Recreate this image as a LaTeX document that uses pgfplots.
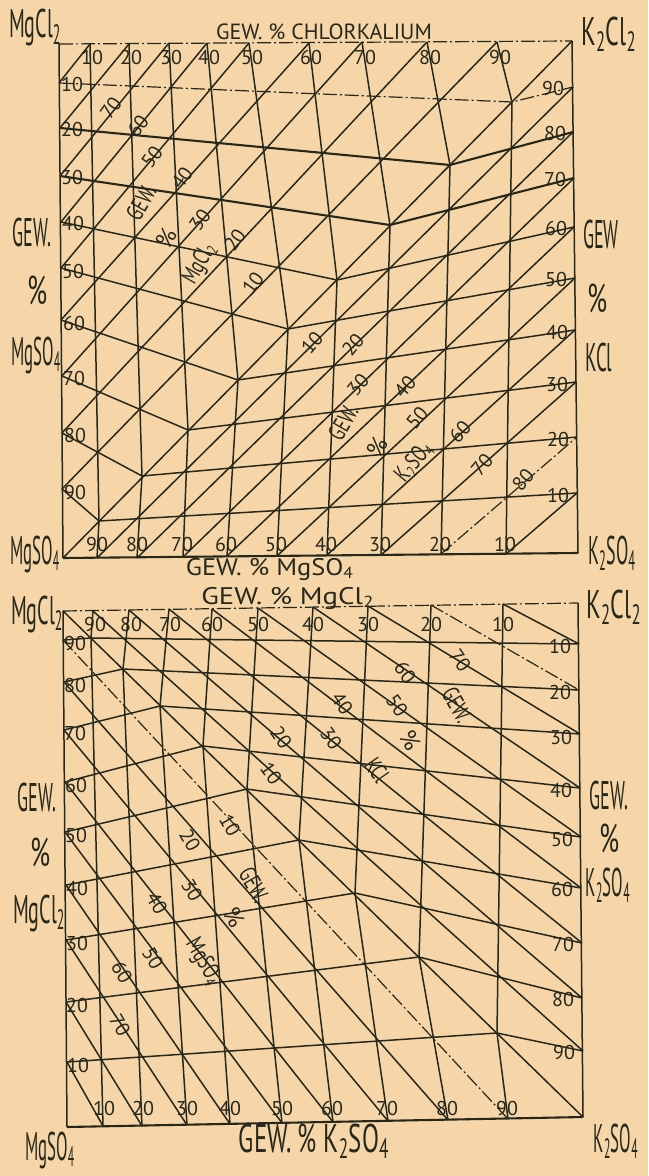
\documentclass[border=0pt]{standalone}
\usepackage{pgfplots}
\pgfplotsset{compat=1.18}
\usepackage{fontspec}
\setmainfont{PT Sans}
\usepackage{graphicx}
\definecolor{paper}{HTML}{F6D6A8}
\definecolor{ink}{HTML}{26281C}
\newcommand{\cond}[2][0.6]{\scalebox{#1}[1]{#2}}
\newcommand{\sub}[1]{\textsubscript{#1}}
\tikzset{
  ln/.style={ink, line width=0.75pt},
  bd/.style={ink, line width=1.05pt},
  dd/.style={ink, line width=0.6pt, dash pattern=on 7pt off 1.5pt on 1pt off 1.5pt},
  num/.style={font=\fontsize{10}{10}\selectfont, text=ink, inner sep=0pt},
  big/.style={font=\fontsize{20}{20}\selectfont, text=ink, inner sep=0pt},
  mid/.style={font=\fontsize{11}{11}\selectfont, text=ink, inner sep=0pt},
  dlab/.style={font=\fontsize{12}{12}\selectfont, text=ink, inner sep=0pt},
  ttl/.style={font=\fontsize{12}{12}\selectfont, text=ink, inner sep=0pt},
}
\begin{document}
\begin{tikzpicture}
\begin{axis}[width=324pt,height=588pt,scale only axis,
  xmin=0,xmax=648,ymin=0,ymax=1176,y dir=reverse,hide axis,clip=false]
\fill[paper] (axis cs:0,0) rectangle (axis cs:648,1176);

% ================= TOP DIAGRAM =================
% borders
\addplot[dd] coordinates {(59,44)(572,41)};
\addplot[ln] coordinates {(572,41)(578,553)};
\addplot[bd] coordinates {(63,558)(578,553)};
\addplot[ln] coordinates {(59,44)(63,558)};
% vertical lines (top KCl %, bottom MgSO4 %)
\addplot[ln] coordinates {(90,44)(99,521)(97,558)};
\addplot[ln] coordinates {(129,44)(142,476)(137,558)};
\addplot[ln] coordinates {(169,43)(188,430)(183,557)};
\addplot[ln] coordinates {(207,43)(238,380)(227,556)};
\addplot[ln] coordinates {(249,43)(288,329)(277,556)};
\addplot[ln] coordinates {(309,43)(337,280)(327,555)};
\addplot[ln] coordinates {(362,42)(390,225)(381,555)};
\addplot[ln] coordinates {(427,42)(450,165)(441,554)};
\addplot[ln] coordinates {(497,42)(512,102)(506,554)};
% horizontal lines (left MgSO4 %, right KCl %)
\addplot[dd] coordinates {(59,83)(512,102)(573,87)};
\addplot[bd] coordinates {(60,128)(450,165)(573,132)};
\addplot[bd] coordinates {(60,176)(390,225)(574,178)};
\addplot[ln] coordinates {(61,222)(337,280)(574,227)};
\addplot[ln] coordinates {(61,268)(288,329)(575,278)};
\addplot[ln] coordinates {(61,320)(238,380)(575,330)};
\addplot[ln] coordinates {(62,376)(188,430)(576,382)};
\addplot[ln] coordinates {(62,433)(142,476)(577,437)};
\addplot[ln] coordinates {(62,489)(99,521)(577,493)};
% diagonals MgCl2
\addplot[ln] coordinates {(59,83)(90,44)};
\addplot[ln] coordinates {(60,128)(129,44)};
\addplot[ln] coordinates {(60,176)(169,43)};
\addplot[ln] coordinates {(61,222)(207,43)};
\addplot[ln] coordinates {(61,268)(249,43)};
\addplot[ln] coordinates {(61,320)(309,43)};
\addplot[ln] coordinates {(62,376)(362,42)};
\addplot[ln] coordinates {(62,433)(427,42)};
\addplot[ln] coordinates {(62,489)(497,42)};
% main diagonal
\addplot[ln] coordinates {(63,558)(572,41)};
% diagonals K2SO4
\addplot[ln] coordinates {(97,558)(573,87)};
\addplot[ln] coordinates {(137,558)(573,132)};
\addplot[ln] coordinates {(183,557)(574,178)};
\addplot[ln] coordinates {(227,556)(574,227)};
\addplot[ln] coordinates {(277,556)(575,278)};
\addplot[ln] coordinates {(327,555)(575,330)};
\addplot[ln] coordinates {(381,555)(576,382)};
\addplot[dd] coordinates {(441,554)(577,437)};
\addplot[ln] coordinates {(506,554)(577,493)};

% top labels
\node[num] at (axis cs:92,58) {10};
\node[num] at (axis cs:131,58) {20};
\node[num] at (axis cs:171,58) {30};
\node[num] at (axis cs:209,58) {40};
\node[num] at (axis cs:252,58) {50};
\node[num] at (axis cs:311,58) {60};
\node[num] at (axis cs:365,58) {70};
\node[num] at (axis cs:430,58) {80};
\node[num] at (axis cs:500,58) {90};
% bottom labels
\node[num] at (axis cs:97,544) {90};
\node[num] at (axis cs:137,544) {80};
\node[num] at (axis cs:182,544) {70};
\node[num] at (axis cs:226,544) {60};
\node[num] at (axis cs:276,544) {50};
\node[num] at (axis cs:326,544) {40};
\node[num] at (axis cs:380,544) {30};
\node[num] at (axis cs:440,544) {20};
\node[num] at (axis cs:505,544) {10};
% left labels
\node[num] at (axis cs:72,85) {10};
\node[num] at (axis cs:72,130) {20};
\node[num] at (axis cs:72,178) {30};
\node[num] at (axis cs:73,224) {40};
\node[num] at (axis cs:73,271) {50};
\node[num] at (axis cs:74,323) {60};
\node[num] at (axis cs:74,378) {70};
\node[num] at (axis cs:75,435) {80};
\node[num] at (axis cs:75,492) {90};
% right labels
\node[num] at (axis cs:553,89) {90};
\node[num] at (axis cs:555,134) {80};
\node[num] at (axis cs:555,180) {70};
\node[num] at (axis cs:556,229) {60};
\node[num] at (axis cs:556,280) {50};
\node[num] at (axis cs:557,332) {40};
\node[num] at (axis cs:557,384) {30};
\node[num] at (axis cs:558,439) {20};
\node[num] at (axis cs:558,495) {10};
% diagonal labels MgCl2
\node[num,rotate=55] at (axis cs:111,108) {70};
\node[num,rotate=55] at (axis cs:138,126) {60};
\node[num,rotate=55] at (axis cs:152,157) {50};
\node[num,rotate=55] at (axis cs:182,178) {40};
\node[num,rotate=55] at (axis cs:200,220) {30};
\node[num,rotate=55] at (axis cs:235,240) {20};
\node[num,rotate=55] at (axis cs:253,283) {10};
\node[dlab,rotate=60] at (axis cs:141,203) {\cond[0.7]{GEW.}};
\node[dlab,rotate=60] at (axis cs:166,238) {\%};
\node[dlab,rotate=60] at (axis cs:200,264) {\cond[0.7]{MgCl\sub{2}}};
% diagonal labels K2SO4
\node[num,rotate=50] at (axis cs:312,343) {10};
\node[num,rotate=50] at (axis cs:353,345) {20};
\node[num,rotate=50] at (axis cs:358,385) {30};
\node[num,rotate=50] at (axis cs:405,387) {40};
\node[num,rotate=50] at (axis cs:417,418) {50};
\node[num,rotate=50] at (axis cs:460,432) {60};
\node[num,rotate=50] at (axis cs:482,465) {70};
\node[num,rotate=50] at (axis cs:523,480) {80};
\node[dlab,rotate=60] at (axis cs:343,423) {\cond[0.7]{GEW.}};
\node[dlab,rotate=60] at (axis cs:377,447) {\%};
\node[dlab,rotate=50] at (axis cs:414,462) {\cond[0.7]{K\sub{2}SO\sub{4}}};
% outer texts
\node[mid] at (axis cs:324,32) {GEW. \% CHLORKALIUM};
\node[ttl] at (axis cs:270,569) {\cond[1.1]{GEW. \% MgSO\sub{4}}};
\node[big] at (axis cs:35,28) {\cond[0.5]{MgCl\sub{2}}};
\node[big] at (axis cs:609,34) {\cond[0.6]{K\sub{2}Cl\sub{2}}};
\node[big] at (axis cs:32,233) {\cond[0.45]{GEW.}};
\node[big] at (axis cs:38,290) {\cond[0.65]{\%}};
\node[big] at (axis cs:36,355) {\cond[0.42]{MgSO\sub{4}}};
\node[big] at (axis cs:601,235) {\cond[0.45]{GEW}};
\node[big] at (axis cs:598,298) {\cond[0.65]{\%}};
\node[big] at (axis cs:599,357) {\cond[0.47]{KCl}};
\node[big] at (axis cs:35,554) {\cond[0.42]{MgSO\sub{4}}};
\node[big] at (axis cs:612,553) {\cond[0.45]{K\sub{2}SO\sub{4}}};

% ================= BOTTOM DIAGRAM =================
\addplot[dd] coordinates {(63,611)(578,603)};
\addplot[ln] coordinates {(578,603)(583,1117)};
\addplot[bd] coordinates {(67,1127)(583,1117)};
\addplot[ln] coordinates {(63,611)(67,1127)};
% vertical lines
\addplot[ln] coordinates {(93,611)(91,638)(103,1126)};
\addplot[ln] coordinates {(129,610)(123,669)(142,1126)};
\addplot[ln] coordinates {(169,609)(160,706)(187,1125)};
\addplot[ln] coordinates {(212,609)(203,746)(230,1124)};
\addplot[ln] coordinates {(258,608)(247,789)(282,1123)};
\addplot[ln] coordinates {(313,607)(299,840)(333,1122)};
\addplot[ln] coordinates {(368,606)(355,893)(388,1121)};
\addplot[ln] coordinates {(431,605)(419,957)(448,1120)};
\addplot[ln] coordinates {(503,604)(497,1033)(508,1119)};
% horizontal lines
\addplot[ln] coordinates {(63,640)(91,638)(579,644)};
\addplot[ln] coordinates {(64,682)(123,669)(579,690)};
\addplot[ln] coordinates {(64,730)(160,706)(580,734)};
\addplot[ln] coordinates {(65,782)(203,746)(580,788)};
\addplot[ln] coordinates {(65,832)(247,789)(581,837)};
\addplot[ln] coordinates {(66,885)(299,840)(581,888)};
\addplot[ln] coordinates {(66,940)(355,893)(582,943)};
\addplot[ln] coordinates {(66,1002)(419,957)(582,998)};
\addplot[ln] coordinates {(67,1062)(497,1033)(583,1051)};
% diagonals KCl
\addplot[ln] coordinates {(93,611)(583,1051)};
\addplot[ln] coordinates {(129,610)(582,998)};
\addplot[ln] coordinates {(169,609)(582,943)};
\addplot[ln] coordinates {(212,609)(581,888)};
\addplot[ln] coordinates {(258,608)(581,837)};
\addplot[ln] coordinates {(313,607)(580,788)};
\addplot[ln] coordinates {(368,606)(580,734)};
\addplot[dd] coordinates {(431,605)(579,690)};
\addplot[ln] coordinates {(503,604)(579,644)};
% main diagonal
\addplot[ln] coordinates {(63,611)(583,1117)};
% diagonals MgSO4
\addplot[dd] coordinates {(63,640)(508,1119)};
\addplot[ln] coordinates {(64,682)(448,1120)};
\addplot[ln] coordinates {(64,730)(388,1121)};
\addplot[ln] coordinates {(65,782)(333,1122)};
\addplot[ln] coordinates {(65,832)(282,1123)};
\addplot[ln] coordinates {(66,885)(230,1124)};
\addplot[ln] coordinates {(66,940)(187,1125)};
\addplot[ln] coordinates {(66,1002)(142,1126)};
\addplot[ln] coordinates {(67,1062)(103,1126)};

% top labels
\node[num] at (axis cs:95,624) {90};
\node[num] at (axis cs:131,624) {80};
\node[num] at (axis cs:170,624) {70};
\node[num] at (axis cs:212,624) {60};
\node[num] at (axis cs:258,624) {50};
\node[num] at (axis cs:313,624) {40};
\node[num] at (axis cs:368,624) {30};
\node[num] at (axis cs:431,624) {20};
\node[num] at (axis cs:503,624) {10};
% bottom labels
\node[num] at (axis cs:104,1108) {10};
\node[num] at (axis cs:143,1108) {20};
\node[num] at (axis cs:187,1108) {30};
\node[num] at (axis cs:230,1108) {40};
\node[num] at (axis cs:282,1108) {50};
\node[num] at (axis cs:332,1108) {60};
\node[num] at (axis cs:387,1108) {70};
\node[num] at (axis cs:447,1108) {80};
\node[num] at (axis cs:507,1108) {90};
% left labels
\node[num] at (axis cs:75,643) {90};
\node[num] at (axis cs:75,685) {80};
\node[num] at (axis cs:75,733) {70};
\node[num] at (axis cs:76,785) {60};
\node[num] at (axis cs:76,835) {50};
\node[num] at (axis cs:77,888) {40};
\node[num] at (axis cs:77,943) {30};
\node[num] at (axis cs:77,1005) {20};
\node[num] at (axis cs:78,1065) {10};
% right labels
\node[num] at (axis cs:560,646) {10};
\node[num] at (axis cs:560,692) {20};
\node[num] at (axis cs:561,737) {30};
\node[num] at (axis cs:561,790) {40};
\node[num] at (axis cs:562,839) {50};
\node[num] at (axis cs:562,889) {60};
\node[num] at (axis cs:563,944) {70};
\node[num] at (axis cs:563,999) {80};
\node[num] at (axis cs:564,1052) {90};
% diagonal labels KCl
\node[num,rotate=-55] at (axis cs:460,660) {70};
\node[num,rotate=-55] at (axis cs:405,672) {60};
\node[num,rotate=-55] at (axis cs:397,705) {50};
\node[num,rotate=-55] at (axis cs:342,703) {40};
\node[num,rotate=-55] at (axis cs:331,738) {30};
\node[num,rotate=-55] at (axis cs:281,737) {20};
\node[num,rotate=-55] at (axis cs:271,773) {10};
\node[dlab,rotate=-60] at (axis cs:457,705) {\cond[0.7]{GEW.}};
\node[dlab,rotate=-60] at (axis cs:410,740) {\%};
\node[dlab,rotate=-55] at (axis cs:377,770) {\cond[0.7]{KCl}};
% diagonal labels MgSO4
\node[num,rotate=-60] at (axis cs:230,825) {10};
\node[num,rotate=-60] at (axis cs:190,840) {20};
\node[num,rotate=-60] at (axis cs:192,890) {30};
\node[num,rotate=-60] at (axis cs:157,903) {40};
\node[num,rotate=-60] at (axis cs:153,958) {50};
\node[num,rotate=-60] at (axis cs:122,972) {60};
\node[num,rotate=-60] at (axis cs:120,1025) {70};
\node[dlab,rotate=-60] at (axis cs:254,885) {\cond[0.7]{GEW.}};
\node[dlab,rotate=-60] at (axis cs:234,917) {\%};
\node[dlab,rotate=-60] at (axis cs:203,962) {\cond[0.7]{MgSO\sub{4}}};
% outer texts
\node[ttl] at (axis cs:288,598) {\cond[1.2]{GEW. \% MgCl\sub{2}}};
\node[big] at (axis cs:314,1141) {\cond[0.62]{GEW. \% K\sub{2}SO\sub{4}}};
\node[big] at (axis cs:37,614) {\cond[0.5]{MgCl\sub{2}}};
\node[big] at (axis cs:614,607) {\cond[0.6]{K\sub{2}Cl\sub{2}}};
\node[big] at (axis cs:37,797) {\cond[0.45]{GEW.}};
\node[big] at (axis cs:41,852) {\cond[0.65]{\%}};
\node[big] at (axis cs:39,913) {\cond[0.5]{MgCl\sub{2}}};
\node[big] at (axis cs:609,795) {\cond[0.45]{GEW.}};
\node[big] at (axis cs:610,838) {\cond[0.65]{\%}};
\node[big] at (axis cs:608,885) {\cond[0.42]{K\sub{2}SO\sub{4}}};
\node[big] at (axis cs:50,1150) {\cond[0.42]{MgSO\sub{4}}};
\node[big] at (axis cs:616,1141) {\cond[0.42]{K\sub{2}SO\sub{4}}};
\end{axis}
\end{tikzpicture}
\end{document}
